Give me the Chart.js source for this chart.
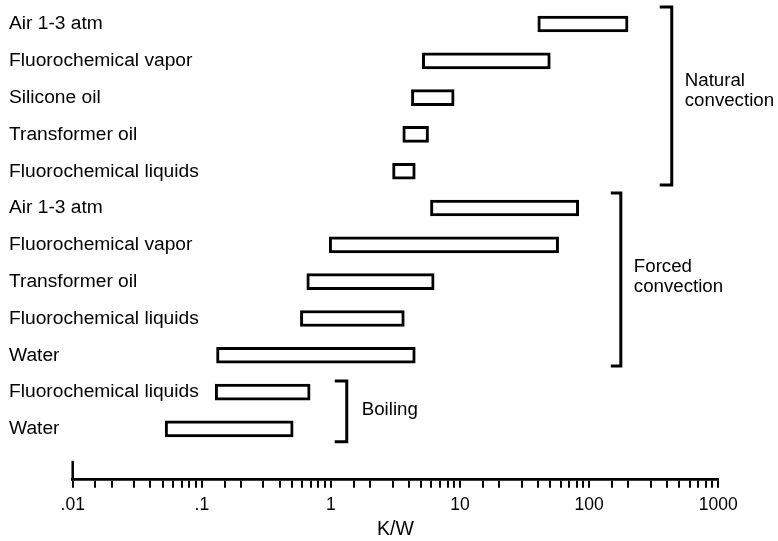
<!DOCTYPE html>
<html>
<head>
<meta charset="utf-8">
<title>Thermal resistance ranges by cooling method</title>
<script src="https://cdn.jsdelivr.net/npm/chart.js@4.4.1/dist/chart.umd.min.js"></script>
<style>
  html, body { margin: 0; padding: 0; background: #ffffff; }
  #wrap { width: 778px; height: 541px; position: relative; }
</style>
</head>
<body>
<div id="wrap"><canvas id="chart"></canvas></div>
<script>
// Coolant / method rows, top to bottom
const categories = [
  'Air 1-3 atm',
  'Fluorochemical vapor',
  'Silicone oil',
  'Transformer oil',
  'Fluorochemical liquids',
  'Air 1-3 atm',
  'Fluorochemical vapor',
  'Transformer oil',
  'Fluorochemical liquids',
  'Water',
  'Fluorochemical liquids',
  'Water'
];

// Thermal resistance range for each row, K/W
const lowValues  = [40, 5.1, 4.2, 3.6, 3.0, 5.9, 0.97, 0.65, 0.58, 0.13, 0.127, 0.052];
const highValues = [200, 50, 9.0, 5.7, 4.5, 83, 58, 6.3, 3.7, 4.5, 0.69, 0.51];

// Cooling regimes (row ranges) shown with brackets on the right
const groupNames = [['Natural', 'convection'], ['Forced', 'convection'], ['Boiling']];

// Log axis: decade starts, sub-decade tick multipliers, printed decade labels
const decades = [0.01, 0.1, 1, 10, 100];
const tickSteps = [1, 1.5, 2, 3, 4, 5, 6, 7, 8, 9];
const tickLabels = { '0.01': '.01', '0.1': '.1', '1': '1', '10': '10', '100': '100', '1000': '1000' };
const axisTitle = 'K/W';

// Bracket placement: x in K/W, vertical extent and text baseline in row units
const bracketLayout = [
  { at: 436,   from: -0.462, to: 4.373,  arm: 12, gap: 13, baseline: 1.684 },
  { at: 175.8, from: 4.590,  to: 9.289,  arm: 10, gap: 13, baseline: 6.728 },
  { at: 1.326, from: 9.696,  to: 11.353, arm: 12, gap: 15, baseline: 10.633 }
];

const FONT = '"Liberation Sans", Arial, Helvetica, sans-serif';
Chart.defaults.font.family = FONT;
Chart.defaults.color = '#000';

const rangeData = categories.map((c, i) => ({ x: [lowValues[i], highValues[i]], y: i }));

function logTickValues() {
  const vals = [];
  decades.forEach(d => tickSteps.forEach(m => vals.push(d * m)));
  vals.push(decades[decades.length - 1] * 10);
  return vals;
}

const groupBrackets = {
  id: 'groupBrackets',
  afterDraw(chart) {
    const { ctx, chartArea } = chart;
    const xs = chart.scales.x, ys = chart.scales.y;
    ctx.save();
    ctx.strokeStyle = '#000';
    ctx.fillStyle = '#000';
    ctx.lineWidth = 3;
    ctx.lineCap = 'butt';
    ctx.lineJoin = 'miter';
    bracketLayout.forEach((b, gi) => {
      const px = xs.getPixelForValue(b.at);
      const y1 = ys.getPixelForValue(b.from);
      const y2 = ys.getPixelForValue(b.to);
      ctx.beginPath();
      ctx.moveTo(px - b.arm, y1);
      ctx.lineTo(px, y1);
      ctx.lineTo(px, y2);
      ctx.lineTo(px - b.arm, y2);
      ctx.stroke();
      ctx.font = '18.7px ' + FONT;
      ctx.textAlign = 'left';
      ctx.textBaseline = 'alphabetic';
      const base = ys.getPixelForValue(b.baseline);
      groupNames[gi].forEach((line, li) => ctx.fillText(line, px + b.gap, base + li * 20));
    });
    // raised end mark at the start of the K/W axis
    const x0 = xs.getPixelForValue(xs.min);
    ctx.lineWidth = 2.5;
    ctx.beginPath();
    ctx.moveTo(x0, chartArea.bottom + 1);
    ctx.lineTo(x0, chartArea.bottom - 18.5);
    ctx.stroke();
    ctx.restore();
  }
};

const LEFT_PAD = 9;
const AXIS_W = 63.7;

new Chart(document.getElementById('chart'), {
  type: 'bar',
  data: {
    datasets: [{
      data: rangeData,
      backgroundColor: '#ffffff',
      borderColor: '#000000',
      borderWidth: 3,
      borderSkipped: false,
      barThickness: 16
    }]
  },
  options: {
    indexAxis: 'y',
    responsive: true,
    maintainAspectRatio: false,
    animation: false,
    layout: { padding: { left: LEFT_PAD, right: 59.7, top: 5.6, bottom: 0 } },
    plugins: { legend: { display: false }, tooltip: { enabled: false } },
    scales: {
      y: {
        type: 'linear',
        reverse: true,
        offset: false,
        min: -0.5,
        max: 12.37,
        afterFit(s) { s.width = AXIS_W; },
        grid: { display: false, offset: false },
        border: { display: false },
        ticks: {
          stepSize: 1,
          includeBounds: false,
          autoSkip: false,
          mirror: true,
          crossAlign: 'near',
          // labels start at the left page margin
          padding: -AXIS_W,
          color: '#000',
          font: { size: 19.2 },
          callback: v => (Number.isInteger(v) && v >= 0 && v < categories.length) ? categories[v] : null
        }
      },
      x: {
        type: 'logarithmic',
        position: 'bottom',
        min: 0.01,
        max: 1000,
        afterBuildTicks(s) { s.ticks = logTickValues().map(v => ({ value: v })); },
        afterFit(s) { s.height = 61.7; },
        grid: { drawOnChartArea: false, drawTicks: true, tickLength: 8.5, color: '#000', lineWidth: 2 },
        border: { display: true, color: '#000', width: 2.7 },
        ticks: {
          autoSkip: false,
          maxRotation: 0,
          padding: 7,
          color: '#000',
          font: { size: 17.5 },
          callback: v => tickLabels[String(v)] ?? ''
        },
        title: { display: true, text: axisTitle, color: '#000', font: { size: 19.5 }, padding: { top: 0, bottom: 0 } }
      }
    }
  },
  plugins: [groupBrackets]
});
</script>
</body>
</html>
